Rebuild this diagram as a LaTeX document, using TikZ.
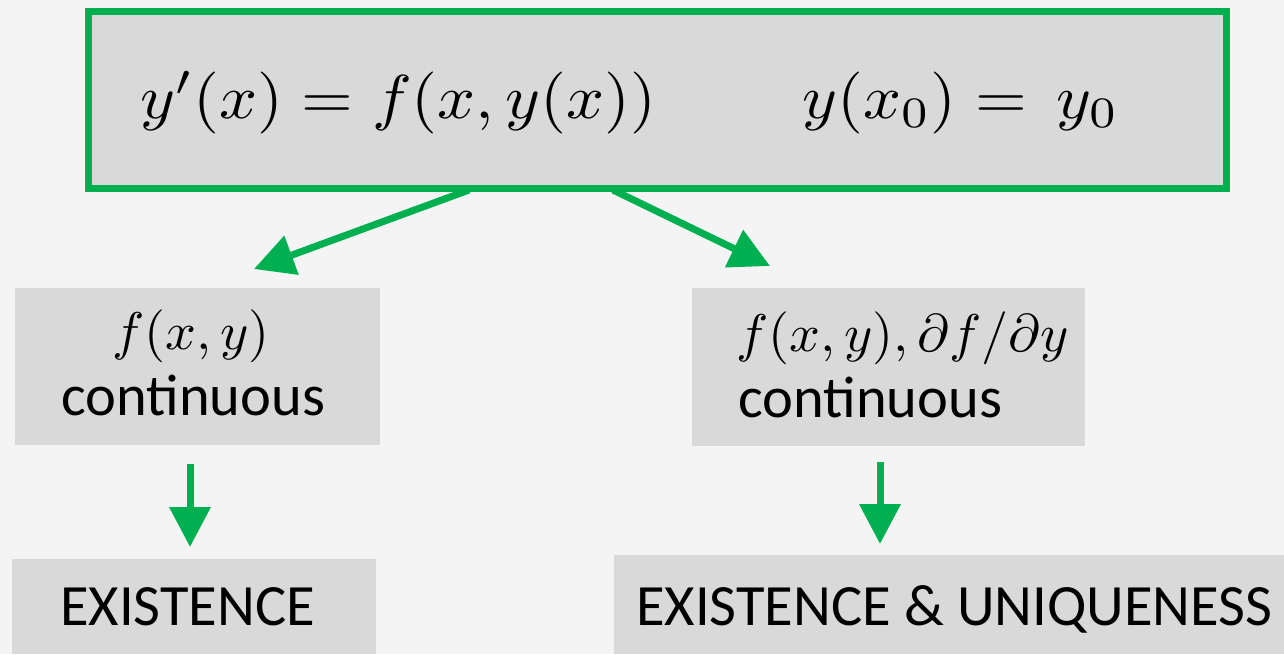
\documentclass[tikz,border=0pt]{standalone}
\usepackage{graphicx}
\usepackage{fontspec}
\setmainfont{Carlito}
\usetikzlibrary{arrows.meta}
\definecolor{bg}{HTML}{F4F4F4}
\definecolor{boxgray}{HTML}{D9D9D9}
\definecolor{grn}{HTML}{00B050}
\newcommand{\mathbx}[3]{\scalebox{#1}[#2]{\fontsize{10}{12}\selectfont$#3$}}
\tikzset{
  graybox/.style={fill=boxgray, draw=none, inner sep=0pt, anchor=north west},
  txt/.style={inner sep=0pt, anchor=base west, font=\fontsize{58.5}{60}\selectfont},
  arr/.style={draw=grn, line width=7pt, -{Triangle[length=40pt,width=40pt]}},
}
\begin{document}
\begin{tikzpicture}[x=1pt,y=-1pt]
\fill[bg] (0,0) rectangle (1284,654);
\useasboundingbox (0,0) rectangle (1284,654);

% boxes
\node[graybox, draw=grn, line width=7pt, minimum width=1138pt, minimum height=177pt, anchor=center] (top) at (657.5,100) {};
\node[graybox, minimum width=365pt, minimum height=157pt] (midL) at (15,288) {};
\node[graybox, minimum width=393pt, minimum height=158pt] (midR) at (692,288) {};
\node[graybox, minimum width=364pt, minimum height=95pt] (botL) at (12,559) {};
\node[graybox, minimum width=670pt, minimum height=99pt] (botR) at (614,555) {};

% texts
\node[txt] (eqA) at (140,118) {\mathbx{6.65}{6.2}{y'(x) = f(x,y(x))}};
\node[txt] (eqB) at (802,118) {\mathbx{6.65}{6.2}{y(x_0) =\, y_0}};
\node[txt] (mlA) at (112,349) {\mathbx{5.4}{5.3}{f(x,y)}};
\node[txt] (mlB) at (61,415) {continuous};
\node[txt] (mrA) at (736,351) {\mathbx{5.4}{5.3}{f(x,y),\partial f/\partial y}};
\node[txt] (mrB) at (738,417) {continuous};
\node[txt] (blA) at (60,625) {EXISTENCE};
\node[txt] (brA) at (636,625) {EXISTENCE \& UNIQUENESS};

% connectors
\coordinate (a1s) at (469,190);
\coordinate (a1e) at (254,269);
\coordinate (a2s) at (613,190);
\coordinate (a2e) at (770,266);
\coordinate (a3s) at (190,464);
\coordinate (a3e) at (190,547);
\coordinate (a4s) at (880,462);
\coordinate (a4e) at (880,544);
\draw[arr] (a1s) -- (a1e);
\draw[arr] (a2s) -- (a2e);
\draw[arr] (a3s) -- (a3e);
\draw[arr] (a4s) -- (a4e);
\end{tikzpicture}
\end{document}
